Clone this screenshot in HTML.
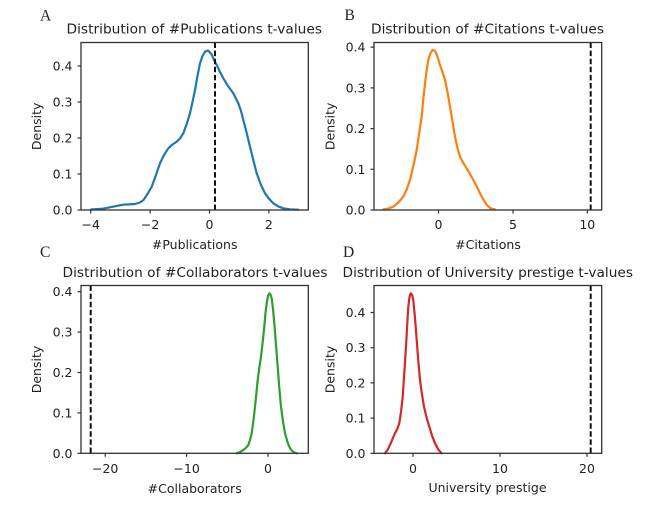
<!DOCTYPE html>
<html>
<head>
<meta charset="utf-8">
<style>
  html,body{margin:0;padding:0;background:#fff;}
  svg{display:block;}
  text{font-family:"DejaVu Sans","Liberation Sans",sans-serif;fill:#222;}
  .t{font-size:13px;}
  .l{font-size:12.5px;}
  .k{font-size:12.5px;}
  .p{font-family:"Liberation Serif","DejaVu Serif",serif;font-size:15.5px;fill:#1e1e2a;}
  .sp{fill:none;stroke:#333;stroke-width:1.3;}
  .tk{stroke:#333;stroke-width:1.2;}
  .dash{stroke:#111;stroke-width:2;stroke-dasharray:5.5 2.6;fill:none;}
  .c{fill:none;stroke-width:2.2;stroke-linejoin:round;stroke-linecap:round;}
</style>
</head>
<body>
<svg width="650" height="505" viewBox="0 0 650 505" xmlns="http://www.w3.org/2000/svg">
<rect width="650" height="505" fill="#fff"/>

<text class="p" x="40" y="20.5">A</text>
<text class="p" x="344.5" y="19.8">B</text>
<text class="p" x="40" y="257">C</text>
<text class="p" x="343" y="257">D</text>

<!-- ============ Panel A ============ -->
<text class="t" x="66.5" y="33.5" textLength="255.5" lengthAdjust="spacingAndGlyphs">Distribution of #Publications t-values</text>
<polyline class="c" stroke="#1f77b4" points="91,209.5 103,208.7 113,206.7 123,204.7 135,204 140,202.5 143.5,200 147.5,194 151.7,186.7 156,175 160,163.3 164,155 168.3,148.3 172.5,144.5 176.7,141.7 180,138.5 183.3,133.3 186.7,124 190,113.3 192.5,102 195,90 197.5,76 200,63.3 202.5,56 205,51.7 208,50.5 211.7,54.5 214,60 216.7,65 220,72 223.3,78.3 228,86 233.3,93.3 238.3,103.3 241,111 243.3,120 246.7,133 250,146.7 253.3,160 256.7,173.3 260.8,184.5 265,193.3 269,198.8 273.3,203.3 278,206.3 283.3,208.3 290,209.3 298.3,209.7"/>
<line class="dash" x1="215" y1="42.5" x2="215" y2="210"/>
<rect class="sp" x="81" y="42.5" width="227.3" height="167.5"/>
<g class="tk">
<line x1="77.5" y1="210" x2="81" y2="210"/>
<line x1="77.5" y1="174" x2="81" y2="174"/>
<line x1="77.5" y1="138" x2="81" y2="138"/>
<line x1="77.5" y1="102" x2="81" y2="102"/>
<line x1="77.5" y1="66" x2="81" y2="66"/>
<line x1="90.7" y1="210" x2="90.7" y2="213.5"/>
<line x1="150.1" y1="210" x2="150.1" y2="213.5"/>
<line x1="209.5" y1="210" x2="209.5" y2="213.5"/>
<line x1="268.9" y1="210" x2="268.9" y2="213.5"/>
</g>
<g class="k" text-anchor="end">
<text x="72.5" y="214.5">0.0</text>
<text x="72.5" y="178.5">0.1</text>
<text x="72.5" y="142.5">0.2</text>
<text x="72.5" y="106.5">0.3</text>
<text x="72.5" y="70.5">0.4</text>
</g>
<g class="k" text-anchor="middle">
<text x="90.7" y="228.8">−4</text>
<text x="150.1" y="228.8">−2</text>
<text x="209.5" y="228.8">0</text>
<text x="268.9" y="228.8">2</text>
</g>
<text class="l" x="194.7" y="249" text-anchor="middle">#Publications</text>
<text class="l" transform="translate(41,126.3) rotate(-90)" text-anchor="middle">Density</text>

<!-- ============ Panel B ============ -->
<text class="t" x="371" y="33.5" textLength="233" lengthAdjust="spacingAndGlyphs">Distribution of #Citations t-values</text>
<polyline class="c" stroke="#ff7f0e" points="383.3,209.5 388,208.7 393.3,206.7 398.3,202.5 403.3,196.7 406.7,189.5 410,180 413.3,166 416.7,150 419.2,133 421.7,116.7 423.3,99 425,83.3 426.7,70 428.3,60 430.5,53 432.7,50 434.5,50.5 436,52.7 438,58 440,65 442.5,72 445,80 447.5,92 450,106.7 452.5,121.5 455,136.7 457.5,148.5 460,156.7 463.3,163 466.7,168.3 470,174 473.3,180 476.7,186.5 480,193.3 483.3,199.5 486.7,205 490.5,208.3 495,209.5"/>
<line class="dash" x1="590.7" y1="42.5" x2="590.7" y2="210"/>
<rect class="sp" x="374" y="42.5" width="227.7" height="167.5"/>
<g class="tk">
<line x1="370.5" y1="210" x2="374" y2="210"/>
<line x1="370.5" y1="169.3" x2="374" y2="169.3"/>
<line x1="370.5" y1="128.6" x2="374" y2="128.6"/>
<line x1="370.5" y1="87.9" x2="374" y2="87.9"/>
<line x1="370.5" y1="47.2" x2="374" y2="47.2"/>
<line x1="438.5" y1="210" x2="438.5" y2="213.5"/>
<line x1="513" y1="210" x2="513" y2="213.5"/>
<line x1="587.3" y1="210" x2="587.3" y2="213.5"/>
</g>
<g class="k" text-anchor="end">
<text x="365.5" y="214.5">0.0</text>
<text x="365.5" y="173.8">0.1</text>
<text x="365.5" y="133.1">0.2</text>
<text x="365.5" y="92.4">0.3</text>
<text x="365.5" y="51.7">0.4</text>
</g>
<g class="k" text-anchor="middle">
<text x="438.5" y="228.8">0</text>
<text x="513" y="228.8">5</text>
<text x="587.3" y="228.8">10</text>
</g>
<text class="l" x="488" y="249" text-anchor="middle">#Citations</text>
<text class="l" transform="translate(334.5,126.3) rotate(-90)" text-anchor="middle">Density</text>

<!-- ============ Panel C ============ -->
<text class="t" x="62.5" y="277" textLength="265" lengthAdjust="spacingAndGlyphs">Distribution of #Collaborators t-values</text>
<polyline class="c" stroke="#2ca02c" points="236.7,453.3 240,452 243.3,450 246,447.8 248.3,445 250,440 251.7,433.3 253,424 254.3,413.3 256,397 257.7,380 259.3,368 261,356.7 262.7,342 264.3,326.7 265.5,313 266.7,303.3 268,296 269.3,293.3 270.5,294.5 271.7,298.3 273,309 274.3,323.3 276,345 277.7,366.7 279.3,388 281,406.7 283,421.5 285,433.3 287.5,442 290,448.3 292.5,451.3 295,452.8 297,453.3"/>
<line class="dash" x1="90.7" y1="285.5" x2="90.7" y2="453.3"/>
<rect class="sp" x="81" y="285.5" width="227.3" height="167.8"/>
<g class="tk">
<line x1="77.5" y1="453.3" x2="81" y2="453.3"/>
<line x1="77.5" y1="412.9" x2="81" y2="412.9"/>
<line x1="77.5" y1="372.5" x2="81" y2="372.5"/>
<line x1="77.5" y1="332.1" x2="81" y2="332.1"/>
<line x1="77.5" y1="291.7" x2="81" y2="291.7"/>
<line x1="105.2" y1="453.3" x2="105.2" y2="456.8"/>
<line x1="186.6" y1="453.3" x2="186.6" y2="456.8"/>
<line x1="268" y1="453.3" x2="268" y2="456.8"/>
</g>
<g class="k" text-anchor="end">
<text x="72.5" y="457.8">0.0</text>
<text x="72.5" y="417.4">0.1</text>
<text x="72.5" y="377">0.2</text>
<text x="72.5" y="336.6">0.3</text>
<text x="72.5" y="296.2">0.4</text>
</g>
<g class="k" text-anchor="middle">
<text x="105.2" y="472.8">−20</text>
<text x="186.6" y="472.8">−10</text>
<text x="268" y="472.8">0</text>
</g>
<text class="l" x="194.7" y="493" text-anchor="middle">#Collaborators</text>
<text class="l" transform="translate(41,369.5) rotate(-90)" text-anchor="middle">Density</text>

<!-- ============ Panel D ============ -->
<text class="t" x="342.5" y="277" textLength="290.5" lengthAdjust="spacingAndGlyphs">Distribution of University prestige t-values</text>
<polyline class="c" stroke="#d62728" points="385,453.3 387.5,450 390,445 392.5,439 395,433.3 397.3,429 399.3,423.3 401,412 402.7,396.7 404.3,373 406,346.7 407.2,325 408.3,306.7 409.5,297 410.7,293.3 412,294.5 413.3,300 415,318 416.7,340 418.3,361 420,380 422,394.5 424,406.7 426.7,418 429.3,426.7 432,435.5 435,443.3 438.3,449.5 441.7,453.3"/>
<line class="dash" x1="590.7" y1="285.5" x2="590.7" y2="453.3"/>
<rect class="sp" x="374" y="285.5" width="227.7" height="167.8"/>
<g class="tk">
<line x1="370.5" y1="453.3" x2="374" y2="453.3"/>
<line x1="370.5" y1="418.1" x2="374" y2="418.1"/>
<line x1="370.5" y1="382.9" x2="374" y2="382.9"/>
<line x1="370.5" y1="347.7" x2="374" y2="347.7"/>
<line x1="370.5" y1="312.5" x2="374" y2="312.5"/>
<line x1="413" y1="453.3" x2="413" y2="456.8"/>
<line x1="500" y1="453.3" x2="500" y2="456.8"/>
<line x1="587" y1="453.3" x2="587" y2="456.8"/>
</g>
<g class="k" text-anchor="end">
<text x="365.5" y="457.8">0.0</text>
<text x="365.5" y="422.6">0.1</text>
<text x="365.5" y="387.4">0.2</text>
<text x="365.5" y="352.2">0.3</text>
<text x="365.5" y="317">0.4</text>
</g>
<g class="k" text-anchor="middle">
<text x="413" y="472.8">0</text>
<text x="500" y="472.8">10</text>
<text x="587" y="472.8">20</text>
</g>
<text class="l" x="487.5" y="492" text-anchor="middle">University prestige</text>
<text class="l" transform="translate(334.5,369.5) rotate(-90)" text-anchor="middle">Density</text>
</svg>
</body>
</html>
